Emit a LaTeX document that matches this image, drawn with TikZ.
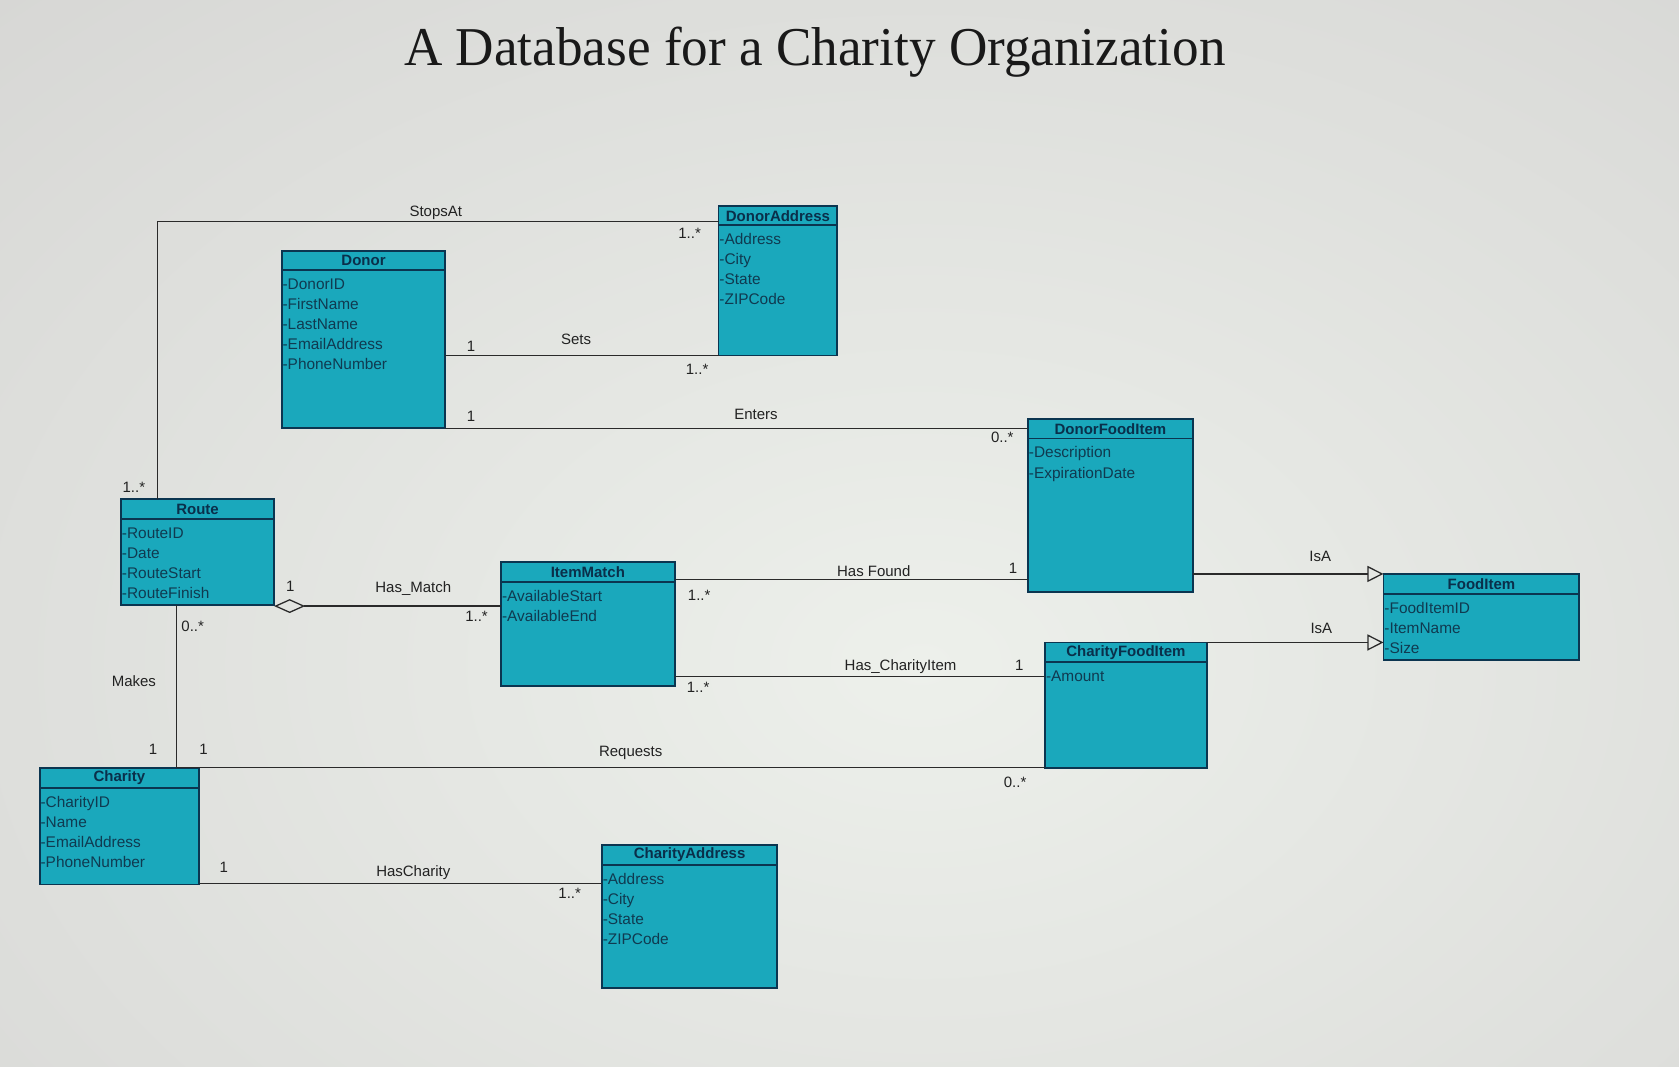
\documentclass[tikz,border=0pt]{standalone}
\usepackage{fontspec}
\setmainfont{Liberation Serif}
\setsansfont{Liberation Sans}
\usetikzlibrary{arrows.meta,fit,calc}
\definecolor{bgc}{HTML}{D6D6D4}
\definecolor{bgl}{HTML}{EDF0EB}
\definecolor{boxc}{HTML}{1AA8BC}
\definecolor{bordc}{HTML}{0B3550}
\definecolor{hdrc}{HTML}{0A2F4A}
\definecolor{attc}{HTML}{103A50}
\definecolor{linec}{HTML}{2A2A2A}
\definecolor{labc}{HTML}{222222}
\newcommand{\umlclass}[7]{%
  \node[cls, fit={(#2,#3) (#4,#5)}] (#1) {};
  \draw[sepl] (#2,#3+18.5) -- (#4,#3+18.5);
  \node[hdr] (#1-title) at ({(#2+#4)/2},#3+9.5) {#6};
  \foreach \t [count=\i] in {#7} {\node[attr] (#1-a\i) at (#2+0.5,{#3+36.7+(\i-1)*18.7}) {\t};}
}
\tikzset{
  cls/.style={draw=bordc, fill=boxc, line width=0.9pt, inner sep=0pt, outer sep=0pt},
  sepl/.style={draw=bordc, line width=0.9pt},
  hdr/.style={font=\sffamily\bfseries\fontsize{7}{8}\selectfont, text=hdrc, inner sep=0pt},
  attr/.style={font=\sffamily\fontsize{7.2}{8}\selectfont, text=attc, anchor=base west, inner sep=0pt},
  conn/.style={draw=linec, line width=0.6pt},
  lab/.style={font=\sffamily\fontsize{7}{8}\selectfont, text=labc, inner sep=0pt},
  ttl/.style={font=\rmfamily, text=black!90, inner sep=0pt}
}
\begin{document}
\begin{tikzpicture}[x=0.5pt,y=-0.5pt]
\useasboundingbox (0,0) rectangle (1568,996);
\fill[bgc] (0,0) rectangle (1568,996);
\begin{scope}
\clip (0,0) rectangle (1568,996);
\shade[inner color=bgl, outer color=bgc] (860,620) ellipse [x radius=1300, y radius=900];
\end{scope}

\node[ttl] (title) at (761,48.5) {\resizebox*{383.5pt}{23.5pt}{A Database for a Charity Organization}};

% classes
\umlclass{donor}{263}{234}{416}{400}{Donor}{-DonorID,-FirstName,-LastName,-EmailAddress,-PhoneNumber}
\umlclass{daddr}{671}{192}{782}{332}{DonorAddress}{-Address,-City,-State,-ZIPCode}
\umlclass{route}{113}{466}{256}{565}{Route}{-RouteID,-Date,-RouteStart,-RouteFinish}
\umlclass{imatch}{468}{525}{630}{641}{ItemMatch}{-AvailableStart,-AvailableEnd}
\umlclass{dfi}{960}{391}{1114}{553}{DonorFoodItem}{-Description,-ExpirationDate}
\umlclass{cfi}{976}{600}{1127}{717}{CharityFoodItem}{-Amount}
\umlclass{food}{1292}{536}{1475}{616}{FoodItem}{-FoodItemID,-ItemName,-Size}
\umlclass{charity}{37}{717}{186}{826}{Charity}{-CharityID,-Name,-EmailAddress,-PhoneNumber}
\umlclass{caddr}{562}{789}{726}{923}{CharityAddress}{-Address,-City,-State,-ZIPCode}

% helper coordinates
\coordinate (sa) at (147,207);
\coordinate (st) at (0,332);
\coordinate (en) at (0,400);
\coordinate (hm) at (0,566);
\coordinate (hf) at (0,541);
\coordinate (hc) at (0,632);
\coordinate (i1) at (0,536);
\coordinate (i2) at (0,600);
\coordinate (mk) at (165,0);
\coordinate (hy) at (0,825);

% connectors
\draw[conn] (route.north -| sa) |- (daddr.west |- sa);
\draw[conn] (donor.east |- st) -- (daddr.west |- st);
\draw[conn] (donor.east |- en) -- (dfi.west |- en);
\draw[conn, {Diamond[open,length=14.5pt,width=6.5pt]}-] (route.east |- hm) -- (imatch.west |- hm);
\draw[conn] (imatch.east |- hf) -- (dfi.west |- hf);
\draw[conn] (imatch.east |- hc) -- (cfi.west |- hc);
\draw[conn, -{Triangle[open,length=7.5pt,width=7.5pt]}] (dfi.east |- i1) -- (food.west |- i1);
\draw[conn, -{Triangle[open,length=7.5pt,width=7.5pt]}] (cfi.east |- i2) -- (food.west |- i2);
\draw[conn] (route.south -| mk) -- (charity.north -| mk);
\draw[conn] (charity.north -| mk) -- (cfi.west |- charity.north);
\draw[conn] (charity.east |- hy) -- (caddr.west |- hy);

% labels
\node[lab] (l-sa) at (407,199) {StopsAt};
\node[lab] (l-sa1) at (644,218) {1..*};
\node[lab] (l-sa2) at (125,455) {1..*};
\node[lab] (l-st1) at (440,323) {1};
\node[lab] (l-st) at (538,317) {Sets};
\node[lab] (l-st2) at (651,345) {1..*};
\node[lab] (l-en1) at (440,389) {1};
\node[lab] (l-en) at (706,387) {Enters};
\node[lab] (l-en2) at (936,408) {0..*};
\node[lab] (l-hm1) at (271,548) {1};
\node[lab] (l-hm) at (386,550) {Has\_Match};
\node[lab] (l-hm2) at (445,576) {1..*};
\node[lab] (l-hf1) at (653,556) {1..*};
\node[lab] (l-hf) at (816,533) {Has Found};
\node[lab] (l-hf2) at (946,531) {1};
\node[lab] (l-hc1) at (652,642) {1..*};
\node[lab] (l-hc) at (841,623) {Has\_CharityItem};
\node[lab] (l-hc2) at (952,621) {1};
\node[lab] (l-i1) at (1233,520) {IsA};
\node[lab] (l-i2) at (1234,587) {IsA};
\node[lab] (l-mk1) at (180,585) {0..*};
\node[lab] (l-mk) at (125,636) {Makes};
\node[lab] (l-mk2) at (143,700) {1};
\node[lab] (l-rq1) at (190,700) {1};
\node[lab] (l-rq) at (589,703) {Requests};
\node[lab] (l-rq2) at (948,731) {0..*};
\node[lab] (l-hy1) at (209,810) {1};
\node[lab] (l-hy) at (386,815) {HasCharity};
\node[lab] (l-hy2) at (532,834) {1..*};
\end{tikzpicture}
\end{document}
